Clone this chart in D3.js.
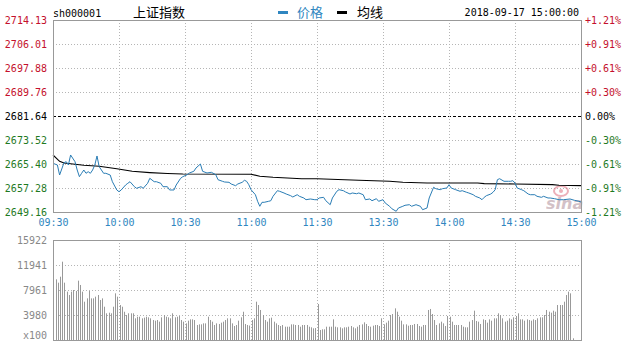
<!DOCTYPE html>
<html>
<head>
<meta charset="utf-8">
<script src="https://cdn.jsdelivr.net/npm/d3@7"></script>
<style>
  body { margin: 0; background: #fff; }
  text { font-family: "DejaVu Sans Mono", monospace; font-size: 10px; }
</style>
</head>
<body>
<div id="chart"></div>
<script>
// chart values
var prevClose = 2681.64;
var priceTicks = [2714.13, 2706.01, 2697.88, 2689.76, 2681.64, 2673.52, 2665.40, 2657.28, 2649.16];
var pctLabels = ["+1.21%", "+0.91%", "+0.61%", "+0.30%", "0.00%", "-0.30%", "-0.61%", "-0.91%", "-1.21%"];
var timeTicks = [0, 30, 60, 90, 120, 150, 180, 210, 240];
var timeLabels = ["09:30", "10:00", "10:30", "11:00", "11:30", "13:30", "14:00", "14:30", "15:00"];
var volTicks = [15922, 11941, 7961, 3980];

// [minute from open, price]
var pricePoints = [
  [0, 2665.64], [2, 2665.06], [3, 2661.68], [5, 2665.84], [6, 2666.18], [7, 2665.06], [8, 2668.45],
  [10, 2666.18], [11, 2663.37], [12, 2661.11], [13, 2662.26], [14, 2663.37], [15, 2662.26], [16, 2662.80],
  [17, 2662.26], [18, 2663.37], [19, 2665.06], [20, 2668.11], [21, 2664.49], [23, 2662.26], [24, 2662.26],
  [26, 2661.68], [27, 2659.41], [29, 2656.61], [30, 2656.03], [31, 2656.61], [33, 2658.30], [34, 2658.87],
  [35, 2659.41], [37, 2657.72], [38, 2657.18], [40, 2657.72], [41, 2657.18], [43, 2658.87], [44, 2660.56],
  [46, 2659.41], [47, 2659.41], [49, 2658.87], [50, 2657.72], [52, 2657.72], [53, 2656.61], [55, 2656.61],
  [56, 2658.30], [58, 2660.56], [59, 2661.11], [61, 2661.78], [62, 2662.36], [64, 2662.93], [65, 2664.05],
  [67, 2665.40], [68, 2662.93], [70, 2662.36], [72, 2662.59], [74, 2661.78], [75, 2660.09], [77, 2659.55],
  [78, 2659.31], [80, 2659.21], [81, 2658.64], [83, 2658.06], [84, 2658.64], [86, 2659.21], [87, 2659.89],
  [88, 2659.55], [89, 2658.40], [90, 2656.71], [92, 2655.01], [93, 2652.78], [94, 2651.09], [95, 2652.44],
  [96, 2652.44], [98, 2652.78], [99, 2652.98], [100, 2654.47], [102, 2656.37], [103, 2656.17], [105, 2655.59],
  [106, 2655.25], [108, 2654.68], [109, 2654.24], [111, 2655.01], [112, 2654.47], [114, 2653.90], [115, 2653.32],
  [117, 2653.56], [119, 2653.32], [120, 2653.32], [121, 2653.90], [123, 2654.13], [124, 2652.98], [126, 2651.63],
  [127, 2653.90], [129, 2656.17], [130, 2656.71], [132, 2656.37], [133, 2655.93], [135, 2655.25], [136, 2655.59],
  [138, 2655.35], [139, 2655.59], [141, 2655.01], [142, 2653.32], [144, 2653.56], [145, 2652.98], [147, 2653.66],
  [148, 2652.78], [150, 2653.32], [151, 2652.21], [153, 2651.09], [154, 2650.28], [156, 2649.40], [157, 2650.51],
  [159, 2651.09], [160, 2651.43], [162, 2651.63], [163, 2651.09], [165, 2651.63], [167, 2651.09], [168, 2649.94],
  [170, 2650.51], [171, 2653.90], [173, 2657.52], [174, 2657.04], [176, 2656.71], [177, 2657.04], [179, 2657.28],
  [180, 2658.40], [181, 2657.28], [183, 2656.71], [185, 2656.17], [186, 2656.37], [188, 2655.83], [189, 2655.59],
  [191, 2655.01], [192, 2654.47], [194, 2653.90], [195, 2653.32], [196, 2654.13], [197, 2654.68], [199, 2655.25],
  [200, 2655.83], [201, 2656.71], [202, 2660.09], [203, 2660.43], [205, 2659.55], [207, 2659.55], [208, 2659.55],
  [209, 2659.75], [210, 2658.97], [211, 2657.28], [213, 2656.71], [214, 2656.37], [216, 2655.25], [217, 2655.01],
  [219, 2655.01], [220, 2654.47], [222, 2654.13], [223, 2654.47], [225, 2653.90], [226, 2653.90], [228, 2653.66],
  [230, 2653.32], [232, 2653.32], [235, 2653.56], [237, 2653.12], [239, 2652.78], [240, 2652.54]
];

// average line, [minute, price]
var avgPoints = [
  [0, 2668.45], [3, 2666.32], [5, 2665.74], [14, 2664.96], [21, 2664.62], [29, 2663.81], [36, 2662.93],
  [44, 2662.50], [52, 2662.20], [59, 2662.00], [90, 2661.95], [94, 2661.24], [100, 2660.90], [113, 2660.43],
  [120, 2660.43], [139, 2659.89], [153, 2659.55], [159, 2659.21], [170, 2658.97], [193, 2658.97],
  [196, 2658.75], [210, 2658.64], [227, 2658.41], [230, 2658.19], [240, 2658.07]
];

// volume per minute (x100), index = minute from open
var volumes = [
  0, 9660, 9130, 10080, 12470, 9130, 7700, 7160, 7700, 7960,
  7800, 9450, 8760, 7700, 6100, 6630, 7800, 6630, 6630, 6900,
  7160, 6370, 6630, 5300, 4250, 4350, 4250, 5300, 7430, 6900,
  5570, 5300, 4500, 3980, 4250, 4250, 4250, 3450, 3710, 3710,
  3450, 3560, 3710, 3610, 3450, 3180, 3080, 3180, 2920, 3610,
  3980, 3710, 3610, 3450, 4250, 3610, 3710, 3820, 3180, 2920,
  2650, 3080, 3290, 3290, 3180, 2390, 2490, 2490, 2650, 2650,
  3710, 3180, 2920, 2390, 2650, 2550, 2760, 2920, 3180, 3450,
  3450, 2650, 2230, 2390, 3080, 3610, 4500, 2550, 2390, 2300,
  3180, 3450, 6100, 5570, 4780, 3980, 3180, 2920, 3450, 3560,
  2920, 2650, 2390, 2230, 2390, 2120, 2120, 2120, 2490, 2490,
  2390, 2390, 2120, 2390, 2390, 2390, 2120, 2020, 1860, 1900,
  5730, 1590, 1700, 1700, 2120, 2120, 2120, 3290, 2120, 2020,
  2020, 1860, 2020, 2020, 2120, 2230, 2020, 1860, 2120, 2390,
  2490, 2810, 2550, 2230, 2120, 2280, 2390, 2390, 2230, 3450,
  2490, 2760, 3080, 3980, 4140, 5040, 4510, 3710, 3080, 2490,
  2490, 2280, 2390, 2390, 2550, 2550, 2230, 2120, 2390, 2390,
  4780, 4940, 4140, 3180, 2390, 2650, 2920, 2650, 2230, 3820,
  3710, 2920, 2390, 2390, 2390, 2390, 2120, 2020, 2020, 2920,
  3180, 4670, 3030, 2920, 2550, 3290, 3180, 2760, 3290, 3080,
  3450, 3450, 4250, 3980, 3450, 2920, 3080, 3450, 3290, 3610,
  3820, 4250, 3290, 3290, 3080, 3290, 3180, 3080, 3290, 3180,
  3450, 3610, 3610, 3980, 4780, 4510, 4350, 4670, 4510, 5570,
  5570, 5570, 6100, 7160, 7700, 7430, 270, 0, 0, 0,
  0
];

var svgWidth = 630;
var svgHeight = 342;

var svg = d3.select("#chart")
  .append("svg")
  .attr("width", svgWidth)
  .attr("height", svgHeight);

// scales
var xScale = d3.scaleLinear().domain([0, 240]).range([53, 581]);
var yScale = d3.scaleLinear().domain([2649.16, 2714.13]).range([212, 20]);
var vScale = d3.scaleLinear().domain([0, 15922]).range([340, 240]);

var red = "#c4102c", green = "#1f7a1f", blue = "#2f86c0";
function priceColor(p) {
  if (p > prevClose + 0.001) return red;
  if (p < prevClose - 0.001) return green;
  return "#000";
}

// header
svg.append("text").attr("x", 53).attr("y", 17).text("sh000001");
svg.append("text").attr("x", 133).attr("y", 17)
  .style("font-family", "'Noto Sans CJK SC'").style("font-size", "13px")
  .text("上证指数");
svg.append("rect").attr("x", 278).attr("y", 11).attr("width", 10).attr("height", 3).attr("fill", blue);
svg.append("text").attr("x", 297).attr("y", 17)
  .style("font-family", "'Noto Sans CJK SC'").style("font-size", "13px")
  .attr("fill", blue).text("价格");
svg.append("rect").attr("x", 337).attr("y", 11).attr("width", 10).attr("height", 3).attr("fill", "#000");
svg.append("text").attr("x", 357).attr("y", 17)
  .style("font-family", "'Noto Sans CJK SC'").style("font-size", "13px")
  .text("均线");
svg.append("text").attr("x", 579).attr("y", 16).attr("text-anchor", "end")
  .text("2018-09-17 15:00:00");

// grids, price panel
var grid = svg.append("g");
grid.selectAll(".hgrid")
  .data(priceTicks.slice(1, -1))
  .enter()
  .append("line")
  .attr("x1", 53).attr("x2", 581)
  .attr("y1", d => Math.round(yScale(d)) + 0.5)
  .attr("y2", d => Math.round(yScale(d)) + 0.5)
  .attr("stroke", d => d === prevClose ? "#000" : "#b5b5b5")
  .attr("stroke-dasharray", d => d === prevClose ? "3,2" : "1,2");

grid.selectAll(".vgrid")
  .data(timeTicks.slice(1, -1))
  .enter()
  .append("line")
  .attr("x1", d => Math.round(xScale(d)) + 0.5)
  .attr("x2", d => Math.round(xScale(d)) + 0.5)
  .attr("y1", 20).attr("y2", 212)
  .attr("stroke", "#b5b5b5")
  .attr("stroke-dasharray", "1,2");

// grids, volume panel
grid.selectAll(".vhgrid")
  .data(volTicks.slice(1))
  .enter()
  .append("line")
  .attr("x1", 53).attr("x2", 581)
  .attr("y1", d => Math.round(vScale(d)) + 0.5)
  .attr("y2", d => Math.round(vScale(d)) + 0.5)
  .attr("stroke", "#b5b5b5")
  .attr("stroke-dasharray", "1,2");

grid.selectAll(".vvgrid")
  .data(timeTicks.slice(1, -1))
  .enter()
  .append("line")
  .attr("x1", d => Math.round(xScale(d)) + 0.5)
  .attr("x2", d => Math.round(xScale(d)) + 0.5)
  .attr("y1", 240).attr("y2", 340)
  .attr("stroke", "#b5b5b5")
  .attr("stroke-dasharray", "1,2");

// sina watermark
var mark = svg.append("g").attr("opacity", 0.55);
mark.append("ellipse").attr("cx", 561).attr("cy", 191).attr("rx", 7).attr("ry", 5)
  .attr("fill", "none").attr("stroke", "#e07080").attr("stroke-width", 2);
mark.append("circle").attr("cx", 561).attr("cy", 191).attr("r", 2).attr("fill", "#e07080");
mark.append("text").attr("x", 546).attr("y", 209)
  .style("font-family", "'DejaVu Sans'").style("font-size", "16px")
  .style("font-style", "italic").style("font-weight", "bold")
  .attr("fill", "#b0909a").text("sina");

// volume bars, one per minute
svg.append("g")
  .selectAll("rect")
  .data(volumes.map((v, i) => [i, v]).filter(d => d[1] > 0))
  .enter()
  .append("rect")
  .attr("x", d => Math.floor(xScale(d[0])) + 1)
  .attr("y", d => vScale(d[1]))
  .attr("width", 1)
  .attr("height", d => 340 - vScale(d[1]))
  .attr("fill", "#999");

// price and average lines
var line = d3.line()
  .x(d => xScale(d[0]))
  .y(d => yScale(d[1]));

svg.append("path")
  .datum(avgPoints)
  .attr("d", line)
  .attr("fill", "none")
  .attr("stroke", "#000")
  .attr("stroke-width", 1.1);

svg.append("path")
  .datum(pricePoints)
  .attr("d", line)
  .attr("fill", "none")
  .attr("stroke", "#2a7db5")
  .attr("stroke-width", 1);

// panel borders
svg.append("rect").attr("x", 53.5).attr("y", 20.5).attr("width", 528).attr("height", 192)
  .attr("fill", "none").attr("stroke", "#999");
svg.append("rect").attr("x", 53.5).attr("y", 240.5).attr("width", 528).attr("height", 100)
  .attr("fill", "none").attr("stroke", "#999");

// axes (labels only)
function styleAxis(g) {
  g.select(".domain").remove();
  g.attr("font-family", "DejaVu Sans Mono").attr("font-size", 10);
}

svg.append("g")
  .attr("transform", "translate(53,0)")
  .call(d3.axisLeft(yScale).tickValues(priceTicks).tickSize(0).tickPadding(6).tickFormat(d3.format(".2f")))
  .call(styleAxis)
  .selectAll("text").attr("fill", d => priceColor(d));

svg.append("g")
  .attr("transform", "translate(581,0)")
  .call(d3.axisRight(yScale).tickValues(priceTicks).tickSize(0).tickPadding(4)
    .tickFormat((d, i) => pctLabels[i]))
  .call(styleAxis)
  .selectAll("text").attr("fill", d => priceColor(d));

svg.append("g")
  .attr("transform", "translate(0,212)")
  .call(d3.axisBottom(xScale).tickValues(timeTicks).tickSize(0).tickPadding(7)
    .tickFormat((d, i) => timeLabels[i]))
  .call(styleAxis)
  .selectAll("text").attr("fill", blue);

svg.append("g")
  .attr("transform", "translate(53,0)")
  .call(d3.axisLeft(vScale).tickValues(volTicks).tickSize(0).tickPadding(6).tickFormat(d3.format("d")))
  .call(styleAxis)
  .selectAll("text").attr("fill", "#888");

svg.append("text").attr("x", 47).attr("y", 339).attr("text-anchor", "end")
  .attr("fill", "#888").text("x100");
</script>
</body>
</html>
